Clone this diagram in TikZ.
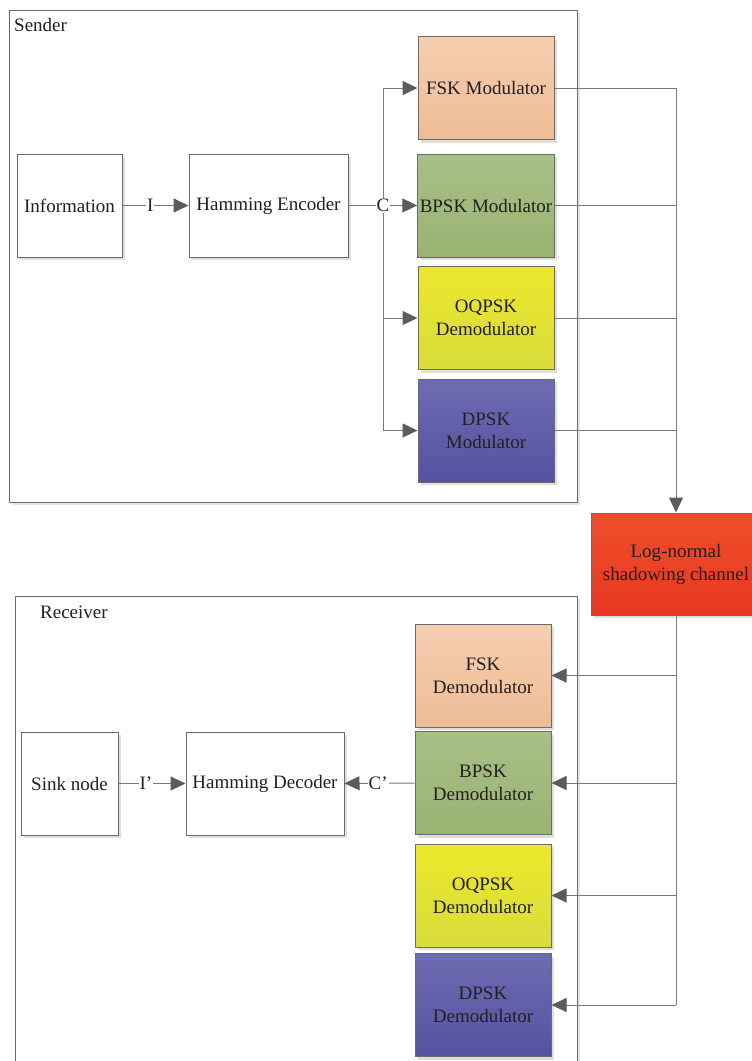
\documentclass[tikz,border=0pt]{standalone}
\usepackage{fontspec}
\setmainfont{Liberation Serif}
\newfontfamily\diagfont[Ligatures=TeX]{Liberation Serif}
\usetikzlibrary{arrows.meta,shadows}

\definecolor{boxgray}{HTML}{6B6B6B}
\definecolor{linegray}{HTML}{7A7A7A}
\definecolor{tipgray}{HTML}{5C5C5C}
\definecolor{txt}{HTML}{231F20}
\definecolor{fsktop}{HTML}{F5CEB0}
\definecolor{fskbot}{HTML}{EEBC96}
\definecolor{bpsktop}{HTML}{A8BF88}
\definecolor{bpskbot}{HTML}{99B372}
\definecolor{oqtop}{HTML}{ECE82C}
\definecolor{oqbot}{HTML}{D8DC3C}
\definecolor{dpsktop}{HTML}{6F6BB2}
\definecolor{dpskbot}{HTML}{5452A1}
\definecolor{chantop}{HTML}{F04E2C}
\definecolor{chanbot}{HTML}{E63820}

\begin{document}
\begin{tikzpicture}[x=1pt, y=-1pt,
    box/.style={draw=boxgray, line width=1pt, fill=white, minimum height=103pt,
        align=center, text=txt, font=\diagfont\fontsize{19}{23}\selectfont, inner sep=2pt,
        drop shadow={shadow xshift=3pt, shadow yshift=-3pt, fill=black!13, opacity=1}},
    modbox/.style={box, minimum width=136pt},
    fskfill/.style={top color=fsktop, bottom color=fskbot},
    bpskfill/.style={top color=bpsktop, bottom color=bpskbot},
    oqfill/.style={top color=oqtop, bottom color=oqbot},
    dpskfill/.style={top color=dpsktop, bottom color=dpskbot},
    frame/.style={draw=boxgray, line width=1pt,
        drop shadow={shadow xshift=3pt, shadow yshift=-3pt, fill=black!10, opacity=1}},
    wire/.style={draw=linegray, line width=1pt},
    arr/.style={wire, -{Triangle[length=15pt, width=14pt, fill=tipgray, color=tipgray]}},
    lbl/.style={fill=white, inner sep=1pt, text=txt, font=\diagfont\fontsize{19}{23}\selectfont},
    title/.style={text=txt, font=\diagfont\fontsize{19}{23}\selectfont, inner sep=0pt}]

    \useasboundingbox (0,0) rectangle (752,1061);
    \clip (0,0) rectangle (752,1061);

    % containers
    \path[frame, fill=white] (9,10) rectangle (577,502);
    \node[title, anchor=base west] (sender) at (14,31) {Sender};
    \path[frame, fill=white] (15,596) rectangle (577,1080);
    \node[title, anchor=base west] (receiver) at (40,618) {Receiver};

    % sender side
    \node[box, minimum width=105pt] (info) at (69.5,205.5) {Information};
    \node[box, minimum width=159pt] (enc) at (268.5,205.5) {Hamming Encoder};
    \node[modbox, fskfill] (fsk) at (486,88) {FSK Modulator};
    \node[modbox, bpskfill] (bpsk) at (486,205.5) {BPSK Modulator};
    \node[modbox, oqfill] (oqpsk) at (486,318) {OQPSK\\Demodulator};
    \node[modbox, dpskfill] (dpsk) at (486,430.5) {DPSK\\Modulator};

    % channel
    \node[box, minimum width=170pt, minimum height=102pt, top color=chantop, bottom color=chanbot]
        (chan) at (676,564) {Log-normal\\shadowing channel};

    % receiver side
    \node[box, minimum width=97pt] (sink) at (69.5,783.5) {Sink node};
    \node[box, minimum width=158pt] (dec) at (265,783.5) {Hamming Decoder};
    \node[modbox, fskfill] (dfsk) at (483,675.5) {FSK\\Demodulator};
    \node[modbox, bpskfill] (dbpsk) at (483,783) {BPSK\\Demodulator};
    \node[modbox, oqfill] (doqpsk) at (483,895.5) {OQPSK\\Demodulator};
    \node[modbox, dpskfill] (ddpsk) at (483,1005) {DPSK\\Demodulator};

    \coordinate (cbus) at (383,205.5);
    \coordinate (rbus) at (676,88);

    % sender wiring
    \draw[arr] (info) -- node[lbl, pos=0.42] {I} (enc);
    \draw[wire] (enc) -- (cbus);
    \draw[arr] (cbus) |- (fsk);
    \draw[arr] (cbus) -- (bpsk);
    \draw[arr] (cbus) |- (oqpsk);
    \draw[arr] (cbus) |- (dpsk);
    \node[lbl] (clbl) at (cbus) {C};

    % into the channel
    \draw[wire] (fsk) -- (rbus);
    \draw[wire] (bpsk.east) -- (bpsk.east -| rbus);
    \draw[wire] (oqpsk.east) -- (oqpsk.east -| rbus);
    \draw[wire] (dpsk.east) -- (dpsk.east -| rbus);
    \draw[arr] (rbus) -- (chan.north);

    % out of the channel
    \draw[wire] (chan.south) -- (chan.south |- ddpsk.east);
    \draw[arr] (dfsk.east -| chan.south) -- (dfsk);
    \draw[arr] (dbpsk.east -| chan.south) -- (dbpsk);
    \draw[arr] (doqpsk.east -| chan.south) -- (doqpsk);
    \draw[arr] (ddpsk.east -| chan.south) -- (ddpsk);

    % receiver wiring
    \draw[arr] (dbpsk) -- node[lbl, pos=0.52] {C’} (dec);
    \draw[arr] (sink) -- node[lbl, pos=0.41] {I’} (dec);
\end{tikzpicture}
\end{document}
